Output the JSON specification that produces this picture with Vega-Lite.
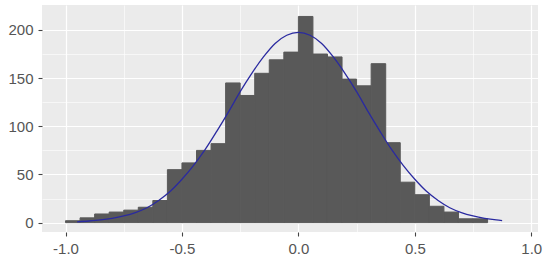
{
  "$schema": "https://vega.github.io/schema/vega-lite/v6.json",
  "width": 496,
  "height": 227,
  "autosize": {"type": "none"},
  "padding": {"left": 42, "top": 5, "right": 12, "bottom": 29},
  "background": "white",
  "config": {
    "view": {"fill": "#EBEBEB", "stroke": null},
    "axis": {
      "labelFont": "Liberation Sans",
      "labelFontSize": 15,
      "labelColor": "#555555",
      "tickColor": "#444444",
      "tickWidth": 1.1,
      "tickSize": 4,
      "domain": false,
      "gridColor": "#FFFFFF",
      "title": null
    }
  },
  "datasets": {
    "bins": [
      {"bin_start": -1.0, "bin_end": -0.9375, "count": 2},
      {"bin_start": -0.9375, "bin_end": -0.875, "count": 5},
      {"bin_start": -0.875, "bin_end": -0.8125, "count": 9},
      {"bin_start": -0.8125, "bin_end": -0.75, "count": 11},
      {"bin_start": -0.75, "bin_end": -0.6875, "count": 13},
      {"bin_start": -0.6875, "bin_end": -0.625, "count": 16},
      {"bin_start": -0.625, "bin_end": -0.5625, "count": 23},
      {"bin_start": -0.5625, "bin_end": -0.5, "count": 55},
      {"bin_start": -0.5, "bin_end": -0.4375, "count": 62},
      {"bin_start": -0.4375, "bin_end": -0.375, "count": 75},
      {"bin_start": -0.375, "bin_end": -0.3125, "count": 82},
      {"bin_start": -0.3125, "bin_end": -0.25, "count": 145},
      {"bin_start": -0.25, "bin_end": -0.1875, "count": 132},
      {"bin_start": -0.1875, "bin_end": -0.125, "count": 155},
      {"bin_start": -0.125, "bin_end": -0.0625, "count": 169},
      {"bin_start": -0.0625, "bin_end": 0.0, "count": 177},
      {"bin_start": 0.0, "bin_end": 0.0625, "count": 214},
      {"bin_start": 0.0625, "bin_end": 0.125, "count": 175},
      {"bin_start": 0.125, "bin_end": 0.1875, "count": 172},
      {"bin_start": 0.1875, "bin_end": 0.25, "count": 149},
      {"bin_start": 0.25, "bin_end": 0.3125, "count": 142},
      {"bin_start": 0.3125, "bin_end": 0.375, "count": 165},
      {"bin_start": 0.375, "bin_end": 0.4375, "count": 83},
      {"bin_start": 0.4375, "bin_end": 0.5, "count": 42},
      {"bin_start": 0.5, "bin_end": 0.5625, "count": 29},
      {"bin_start": 0.5625, "bin_end": 0.625, "count": 17},
      {"bin_start": 0.625, "bin_end": 0.6875, "count": 11},
      {"bin_start": 0.6875, "bin_end": 0.75, "count": 4},
      {"bin_start": 0.75, "bin_end": 0.8125, "count": 4}
    ],
    "curve": [
      {"x": -0.95, "y": 0.9},
      {"x": -0.9, "y": 1.7},
      {"x": -0.85, "y": 2.8},
      {"x": -0.8, "y": 4.5},
      {"x": -0.75, "y": 7.0},
      {"x": -0.7, "y": 10.5},
      {"x": -0.65, "y": 15.5},
      {"x": -0.6, "y": 23},
      {"x": -0.55, "y": 32.5},
      {"x": -0.5, "y": 45},
      {"x": -0.45, "y": 59.5},
      {"x": -0.4, "y": 76},
      {"x": -0.35, "y": 95},
      {"x": -0.3, "y": 115},
      {"x": -0.25, "y": 136},
      {"x": -0.2, "y": 155},
      {"x": -0.15, "y": 172},
      {"x": -0.1, "y": 186},
      {"x": -0.05, "y": 194.5},
      {"x": 0.0, "y": 197.5},
      {"x": 0.05, "y": 194.5},
      {"x": 0.1, "y": 186},
      {"x": 0.15, "y": 172},
      {"x": 0.2, "y": 155},
      {"x": 0.25, "y": 136},
      {"x": 0.3, "y": 115},
      {"x": 0.35, "y": 95},
      {"x": 0.4, "y": 76},
      {"x": 0.45, "y": 59.5},
      {"x": 0.5, "y": 45},
      {"x": 0.55, "y": 32.5},
      {"x": 0.6, "y": 23},
      {"x": 0.65, "y": 15.5},
      {"x": 0.7, "y": 10.5},
      {"x": 0.75, "y": 7.0},
      {"x": 0.8, "y": 4.5},
      {"x": 0.85, "y": 2.8},
      {"x": 0.875, "y": 2.2}
    ]
  },
  "layer": [
    {
      "data": {"name": "bins"},
      "mark": {"type": "rect", "fill": "#595959", "stroke": "#595959", "strokeWidth": 1},
      "encoding": {
        "x": {
          "field": "bin_start",
          "type": "quantitative",
          "scale": {"domain": [-1.101, 1.029], "nice": false, "zero": false},
          "axis": {"orient": "bottom", "values": [-0.75, -0.25, 0.25, 0.75], "grid": true, "gridWidth": 0.6, "labels": false, "ticks": false}
        },
        "x2": {"field": "bin_end"},
        "y": {
          "field": "count",
          "type": "quantitative",
          "scale": {"domain": [-9.7, 225.9], "nice": false, "zero": false},
          "axis": {"orient": "left", "values": [25, 75, 125, 175], "grid": true, "gridWidth": 0.6, "labels": false, "ticks": false}
        },
        "y2": {"datum": 0}
      }
    },
    {
      "data": {"name": "curve"},
      "mark": {"type": "line", "color": "#2a2aa0", "strokeWidth": 1.3, "interpolate": "monotone"},
      "encoding": {
        "x": {
          "field": "x",
          "type": "quantitative",
          "axis": {"orient": "bottom", "values": [-1, -0.5, 0, 0.5, 1], "grid": true, "gridWidth": 1.2, "labelPadding": 5, "labelExpr": "replace(format(datum.value, '.1f'), '−', '-')"}
        },
        "y": {
          "field": "y",
          "type": "quantitative",
          "axis": {"orient": "left", "values": [0, 50, 100, 150, 200], "grid": true, "gridWidth": 1.2, "labelPadding": 5, "format": "d"}
        }
      }
    }
  ],
  "resolve": {"axis": {"x": "independent", "y": "independent"}}
}
